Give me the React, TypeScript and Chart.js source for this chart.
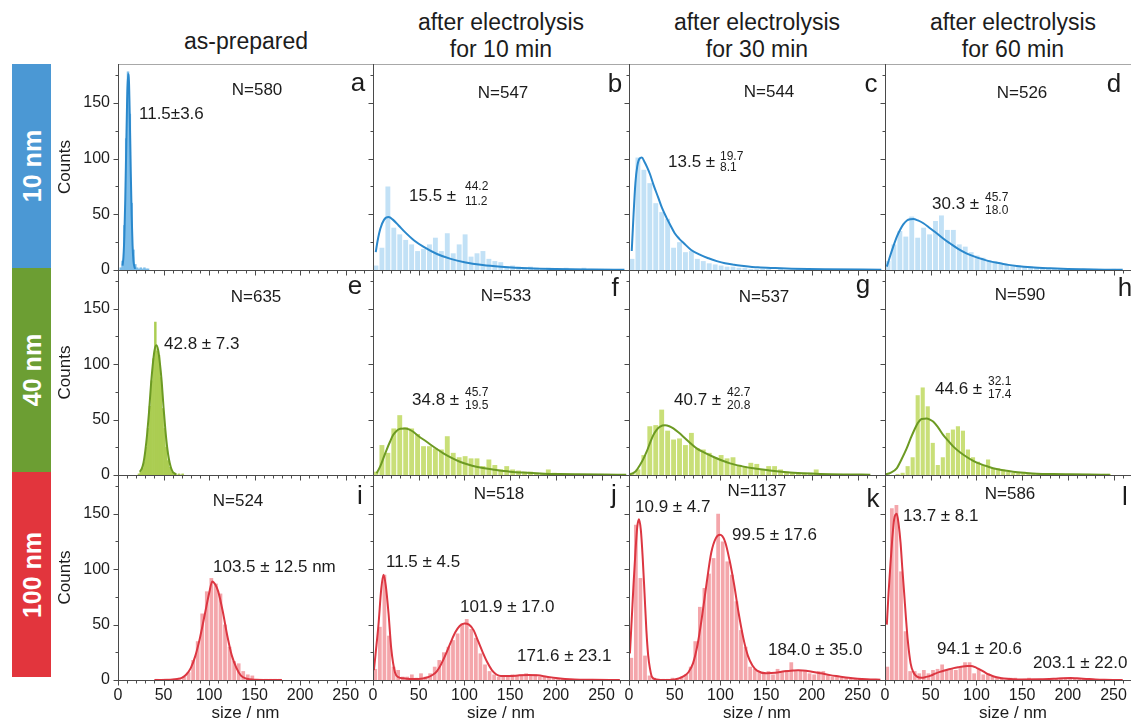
import React, { useEffect, useRef } from 'react';
import { Chart, registerables } from 'chart.js';

Chart.register(...registerables);

const FONT = '"Liberation Sans", Arial, Helvetica, sans-serif';
const TEXT = '#1c1c1c';
const AXIS = '#4a4a4a';

// ---------- text content ----------
const columnTitles: string[][] = [
  ['as-prepared'],
  ['after electrolysis', 'for 10 min'],
  ['after electrolysis', 'for 30 min'],
  ['after electrolysis', 'for 60 min'],
];
const rowLabels = ['10 nm', '40 nm', '100 nm'];
const panelLetters = ['a', 'b', 'c', 'd', 'e', 'f', 'g', 'h', 'i', 'j', 'k', 'l'];
const sampleSizes = ['N=580', 'N=547', 'N=544', 'N=526', 'N=635', 'N=533', 'N=537', 'N=590', 'N=524', 'N=518', 'N=1137', 'N=586'];
const xTitle = 'size / nm';
const yTitle = 'Counts';

// ---------- axes ----------
const xMin = 0;
const xMax = 280;
const xTickStep = 10;
const xLabelStep = 50;
const yMin = 0;
const yMax = 185;
const yTickStep = 25;
const yLabelStep = 50;

// ---------- panel a (10 nm, as-prepared) ----------
const aBinStart = 3;
const aBinWidth = 2;
const aCounts = [2, 8, 40, 118, 178, 140, 60, 18, 5, 2, 1, 2, 1, 2, 1, 1];
const aFitX = [5, 6, 7, 8, 9, 10, 11, 12, 13, 14, 15, 16, 17, 18, 19];
const aFitY = [4, 12, 31, 64, 108, 152, 176, 170, 135, 89, 49, 22, 8, 3, 1];

// ---------- panel b (10 nm, 10 min) ----------
const bBinStart = 3.25;
const bBinWidth = 6.5;
const bCounts = [4, 20, 75, 38, 32, 27, 23, 17, 19, 23, 29, 17, 33, 15, 23, 32, 12, 15, 17, 10, 8, 7, 3, 4, 3, 2, 3, 2, 1, 2, 1, 1, 2, 1, 1, 2, 1, 1, 1, 1];
const bFitX = [3, 5, 8, 12, 17, 22, 28, 35, 45, 55, 70, 85, 100, 120, 140, 170, 200, 240, 275];
const bFitY = [16, 26, 37, 45, 47.5, 45, 40, 34, 26.5, 21, 14.4, 10, 7, 4.5, 3, 1.5, 0.8, 0.4, 0.2];

// ---------- panel c (10 nm, 30 min) ----------
const cBinStart = 3.25;
const cBinWidth = 6.5;
const cCounts = [10, 101, 90, 78, 60, 52, 46, 20, 25, 16, 17, 10, 8, 6, 5, 4, 3, 3, 2, 2, 1, 1, 1, 1, 0, 1, 0, 0, 1, 0, 1];
const cFitX = [3, 5, 7, 9, 11.5, 14, 17, 20, 23, 27, 32, 36, 41, 46, 50, 55, 60, 68, 78, 87, 96, 105, 115, 123, 141, 160, 178, 214, 276];
const cFitY = [17, 50, 78, 93, 100, 101, 97, 92, 86, 76, 65, 56, 47, 39, 33, 28, 24, 18, 13.5, 10.5, 8, 6, 4.7, 3.9, 2.4, 1.7, 1.2, 0.6, 0.3];

// ---------- panel d (10 nm, 60 min) ----------
const dBinStart = 3.25;
const dBinWidth = 6.5;
const dCounts = [8, 23, 35, 30, 48, 29, 38, 32, 44, 49, 36, 36, 23, 21, 16, 13, 11, 9, 8, 6, 5, 4, 4, 3, 3, 2, 2, 2, 1, 1, 1, 1, 1, 1, 1, 1, 1, 0, 1];
const dFitX = [2, 5, 9, 13, 16.4, 20, 24, 28, 31, 36, 42, 50, 56.5, 64, 71, 80, 89, 98, 107, 116, 126, 135, 144, 160, 181, 200, 217, 239, 260];
const dFitY = [3, 11, 21, 30, 36, 41, 44.5, 45.6, 45.8, 44.5, 42, 37, 33, 28, 24, 19, 15, 12, 9.6, 7.5, 6, 4.6, 3.6, 2.4, 1.5, 0.9, 0.6, 0.3, 0.15];

// ---------- panel e (40 nm, as-prepared) ----------
const eBinStart = 23;
const eBinWidth = 2;
const eCounts = [1, 3, 6, 12, 25, 42, 62, 85, 105, 138, 112, 108, 88, 60, 42, 25, 13, 7, 3, 2, 1, 0, 1, 0, 1];
const eFitX = [24, 26, 28, 30, 32, 34, 36, 38, 40, 42, 44, 46, 48, 50, 52, 54, 56, 58, 60, 62, 64];
const eFitY = [3, 5.5, 11, 22, 37, 56, 79, 98, 112, 117, 113, 101, 84, 61, 41, 25, 14, 7, 3, 1.5, 0.5];

// ---------- panel f (40 nm, 10 min) ----------
const fBinStart = 3.25;
const fBinWidth = 6.5;
const fCounts = [3, 27, 20, 42, 54, 43, 42, 37, 26, 26, 24, 23, 35, 20, 16, 17, 15, 15, 8, 14, 9, 5, 8, 5, 4, 3, 3, 2, 2, 5, 2, 1, 1, 1, 1, 1, 1, 0, 1, 1];
const fFitX = [4, 8, 11.3, 15, 18.6, 22, 26, 30, 35, 40, 44, 50, 58.7, 67, 77, 86, 95, 104, 113, 122, 132, 150, 168, 186, 205, 223, 250, 277];
const fFitY = [1.5, 8, 15, 23, 30, 36, 40, 41.7, 42, 41, 39, 35, 30, 25, 19.6, 15.5, 12, 9.5, 7.5, 6, 4.8, 3, 2, 1.2, 0.8, 0.6, 0.4, 0.3];

// ---------- panel g (40 nm, 30 min) ----------
const gBinStart = 3.25;
const gBinWidth = 6.5;
const gCounts = [2, 5, 18, 44, 45, 59, 40, 32, 33, 27, 38, 24, 23, 20, 16, 18, 15, 16, 9, 8, 11, 10, 5, 8, 8, 5, 3, 2, 2, 2, 2, 5, 1, 1, 1, 1, 1];
const gFitX = [1, 5, 8, 12, 16, 19.3, 23, 26.6, 30, 34, 39.4, 44, 48.5, 54, 59.4, 66, 74, 83, 92, 101, 110.5, 123, 136, 154, 172.5, 190, 209, 235, 264];
const gFitY = [0.6, 2, 4, 9, 15, 21, 29, 36, 40.5, 43.6, 44.8, 44, 42, 38.5, 34.6, 29.5, 24, 20, 16.5, 13.3, 10.5, 8, 6, 4, 2.4, 1.5, 0.9, 0.5, 0.3];

// ---------- panel h (40 nm, 60 min) ----------
const hBinStart = 2.75;
const hBinWidth = 5.5;
const hCounts = [0, 0, 1, 2, 8, 16, 72, 79, 62, 29, 9, 16, 38, 41, 44, 40, 23, 16, 12, 9, 14, 6, 6, 5, 3, 2, 2, 2, 1, 1, 1, 0, 1, 1, 0, 1, 1, 0, 1, 0, 1, 0, 0, 1, 1];
const hFitX = [0, 6, 12.8, 18, 23.7, 28, 32.8, 36, 40, 45.6, 49, 52.9, 58, 63.8, 69, 74.8, 82, 89, 96, 104, 113, 122, 131, 140, 153, 166, 184, 202, 224, 246];
const hFitY = [0.5, 2, 6, 14, 24, 33, 42, 47, 50.6, 51, 50, 48, 43, 36, 31, 25.6, 20.5, 16.5, 13, 10, 7.5, 5.4, 4, 3, 2, 1.2, 0.8, 0.6, 0.4, 0.3];

// ---------- panel i (100 nm, as-prepared) ----------
const iBinStart = 2.5;
const iBinWidth = 5;
const iCounts = [0, 0, 0, 0, 0, 0, 0, 0, 1, 0, 1, 0, 1, 1, 3, 7, 18, 35, 60, 80, 92, 87, 78, 50, 30, 17, 15, 8, 5, 4, 1, 0, 1, 1, 1, 1];
const iFitX = [40, 60, 65, 70, 75, 80, 85, 90, 95, 100, 103.5, 107, 110, 115, 120, 125, 130, 135, 140, 150, 180];
const iFitY = [0, 0.5, 1, 2, 5, 11, 22, 38, 58, 78, 89, 86, 80, 62, 40, 22, 11, 4, 1.5, 0.3, 0];

// ---------- panel j (100 nm, 10 min) ----------
const jBinStart = 2.5;
const jBinWidth = 5;
const jCounts = [10, 48, 95, 40, 12, 9, 3, 3, 5, 2, 6, 3, 6, 12, 18, 25, 30, 36, 42, 51, 55, 46, 38, 24, 14, 8, 5, 3, 3, 4, 5, 4, 5, 6, 4, 5, 3, 3, 2, 2, 1, 1, 1, 1];
const jFitX = [1, 3, 6, 9, 11.5, 14, 17, 20, 24, 28, 33, 40, 50, 60, 65, 70, 75, 80, 85, 90, 95, 100, 105, 110, 115, 120, 125, 130, 135, 140, 150, 160, 170, 180, 190, 200, 210, 220, 240, 270];
const jFitY = [9, 25, 50, 82, 95, 85, 60, 28, 7, 2.5, 1.5, 1, 1, 2.5, 4.5, 8, 15, 24, 34, 43, 49, 51, 50, 45, 35, 25, 16, 9, 5, 3.5, 3.5, 4.2, 4.6, 4.2, 3, 1.8, 1, 0.5, 0.2, 0];

// ---------- panel k (100 nm, 30 min) ----------
const kBinStart = 2.5;
const kBinWidth = 5;
const kCounts = [20, 140, 92, 22, 4, 2, 1, 1, 1, 2, 1, 3, 5, 12, 35, 66, 83, 96, 110, 150, 125, 107, 95, 71, 45, 30, 12, 10, 8, 6, 8, 5, 10, 8, 9, 16, 8, 9, 8, 6, 5, 8, 8, 4, 3, 3, 2, 2, 1, 1, 1];
const kFitX = [1, 3, 5, 7, 9, 10.9, 13, 15, 17, 19, 21, 23, 25, 30, 40, 50, 60, 65, 70, 75, 80, 85, 90, 95, 99.5, 105, 110, 115, 120, 125, 130, 135, 140, 150, 160, 170, 180, 185, 190, 200, 210, 220, 230, 240, 250, 260, 275];
const kFitY = [24, 55, 87, 115, 138, 145, 135, 110, 78, 45, 22, 10, 3, 0.5, 0, 0.5, 3.5, 7, 15, 32, 58, 88, 115, 128, 131, 125, 108, 86, 60, 38, 22, 13, 8.5, 6.2, 6.5, 7.8, 8.5, 8.7, 8.6, 7.5, 6, 4.4, 3.2, 2, 1.2, 0.7, 0.3];

// ---------- panel l (100 nm, 60 min) ----------
const lBinStart = 2.5;
const lBinWidth = 5;
const lCounts = [12, 155, 158, 98, 44, 8, 8, 6, 9, 6, 9, 10, 14, 9, 10, 9, 12, 16, 16, 6, 10, 5, 6, 3, 2, 2, 0, 2, 2, 0, 1, 2, 1, 0, 0, 0, 1, 1, 2, 2, 2, 1, 1, 1, 1, 1];
const lFitX = [2, 4, 6, 8, 10, 12.8, 15, 17, 19, 21, 23, 25, 28, 31, 35, 40, 45, 50, 55, 60, 65, 70, 75, 80, 85, 90, 94, 100, 105, 110, 115, 120, 125, 130, 140, 150, 170, 185, 195, 203, 210, 220, 230, 240, 260];
const lFitY = [50, 80, 105, 128, 145, 150, 140, 124, 100, 78, 55, 35, 15, 7, 3, 2, 2.8, 4, 5.8, 7.3, 8.6, 9.7, 10.7, 11.5, 12.2, 12.6, 12.7, 11, 9, 6.5, 4.5, 3, 2, 1.3, 0.7, 0.5, 0.6, 1.1, 1.6, 1.8, 1.5, 1, 0.5, 0.2, 0];

// ---------- layout & style ----------
const colLeft = [118, 373, 629, 885];
const plotWidth = 256;
const rowTop = [64, 270, 475];
const rowBottom = [270, 475, 680];

const rowStyles = [
  { band: '#4b98d4', bar: '#c2e1f6', dense: '#7dbde9', line: '#2a88cc' },
  { band: '#6c9e33', bar: '#c9df78', dense: '#abcd52', line: '#6c9a23' },
  { band: '#e2353d', bar: '#f4a6ab', dense: '#f4a6ab', line: '#dc3641' },
];

interface ValueNote {
  text: string;
  dx: number;
  dy: number;
  sup?: string;
  sub?: string;
  supDx?: number;
  supDy?: number;
  subDy?: number;
}

interface PanelDef {
  row: number;
  col: number;
  binStart: number;
  binWidth: number;
  counts: number[];
  fitX: number[];
  fitY: number[];
  dense: boolean;
  nPos: [number, number];
  letterPos: [number, number];
  notes: ValueNote[];
}

const panels: PanelDef[] = [
  { row: 0, col: 0, binStart: aBinStart, binWidth: aBinWidth, counts: aCounts, fitX: aFitX, fitY: aFitY, dense: true,
    nPos: [139, 26], letterPos: [240, 20], notes: [{ text: '11.5±3.6', dx: 21, dy: 50 }] },
  { row: 0, col: 1, binStart: bBinStart, binWidth: bBinWidth, counts: bCounts, fitX: bFitX, fitY: bFitY, dense: false,
    nPos: [130, 29], letterPos: [242, 21], notes: [{ text: '15.5 ±', dx: 36, dy: 132, sup: '44.2', sub: '11.2', supDx: 92, supDy: 123, subDy: 138 }] },
  { row: 0, col: 2, binStart: cBinStart, binWidth: cBinWidth, counts: cCounts, fitX: cFitX, fitY: cFitY, dense: false,
    nPos: [140, 28], letterPos: [242, 21], notes: [{ text: '13.5 ±', dx: 39, dy: 98, sup: '19.7', sub: '8.1', supDx: 91, supDy: 93, subDy: 104 }] },
  { row: 0, col: 3, binStart: dBinStart, binWidth: dBinWidth, counts: dCounts, fitX: dFitX, fitY: dFitY, dense: false,
    nPos: [137, 29], letterPos: [229, 21], notes: [{ text: '30.3 ±', dx: 47, dy: 140, sup: '45.7', sub: '18.0', supDx: 100, supDy: 134, subDy: 147 }] },
  { row: 1, col: 0, binStart: eBinStart, binWidth: eBinWidth, counts: eCounts, fitX: eFitX, fitY: eFitY, dense: true,
    nPos: [138, 27], letterPos: [237, 17], notes: [{ text: '42.8 ± 7.3', dx: 46, dy: 74 }] },
  { row: 1, col: 1, binStart: fBinStart, binWidth: fBinWidth, counts: fCounts, fitX: fFitX, fitY: fFitY, dense: false,
    nPos: [133, 26], letterPos: [242, 19], notes: [{ text: '34.8 ±', dx: 39, dy: 130, sup: '45.7', sub: '19.5', supDx: 92, supDy: 123, subDy: 136 }] },
  { row: 1, col: 2, binStart: gBinStart, binWidth: gBinWidth, counts: gCounts, fitX: gFitX, fitY: gFitY, dense: false,
    nPos: [135, 27], letterPos: [234, 16], notes: [{ text: '40.7 ±', dx: 45, dy: 130, sup: '42.7', sub: '20.8', supDx: 98, supDy: 123, subDy: 136 }] },
  { row: 1, col: 3, binStart: hBinStart, binWidth: hBinWidth, counts: hCounts, fitX: hFitX, fitY: hFitY, dense: false,
    nPos: [135, 25], letterPos: [240, 19], notes: [{ text: '44.6 ±', dx: 50, dy: 119, sup: '32.1', sub: '17.4', supDx: 103, supDy: 112, subDy: 125 }] },
  { row: 2, col: 0, binStart: iBinStart, binWidth: iBinWidth, counts: iCounts, fitX: iFitX, fitY: iFitY, dense: false,
    nPos: [120, 26], letterPos: [242, 22], notes: [{ text: '103.5 ± 12.5 nm', dx: 95, dy: 92 }] },
  { row: 2, col: 1, binStart: jBinStart, binWidth: jBinWidth, counts: jCounts, fitX: jFitX, fitY: jFitY, dense: false,
    nPos: [126, 19], letterPos: [241, 21], notes: [
      { text: '11.5 ± 4.5', dx: 13, dy: 87 },
      { text: '101.9 ± 17.0', dx: 87, dy: 132 },
      { text: '171.6 ± 23.1', dx: 144, dy: 181 },
    ] },
  { row: 2, col: 2, binStart: kBinStart, binWidth: kBinWidth, counts: kCounts, fitX: kFitX, fitY: kFitY, dense: false,
    nPos: [128, 16], letterPos: [244, 25], notes: [
      { text: '10.9 ± 4.7', dx: 6, dy: 32 },
      { text: '99.5 ± 17.6', dx: 103, dy: 60 },
      { text: '184.0 ± 35.0', dx: 139, dy: 175 },
    ] },
  { row: 2, col: 3, binStart: lBinStart, binWidth: lBinWidth, counts: lCounts, fitX: lFitX, fitY: lFitY, dense: false,
    nPos: [125, 19], letterPos: [240, 23], notes: [
      { text: '13.7 ± 8.1', dx: 18, dy: 41 },
      { text: '94.1 ± 20.6', dx: 52, dy: 174 },
      { text: '203.1 ± 22.0', dx: 148, dy: 188 },
    ] },
];

function makeDecor(p: PanelDef, index: number) {
  return {
    id: 'panelDecor' + index,
    afterDraw(chart: any) {
      const { ctx, chartArea: ca } = chart;
      const xs = chart.scales.x;
      const ys = chart.scales.y;
      const left = Math.round(ca.left) + 0.5;
      const bottom = Math.round(ca.bottom) + 0.5;
      const top = Math.round(ca.top) + 0.5;
      ctx.save();
      ctx.lineWidth = 1;
      if (p.row === 0) {
        ctx.strokeStyle = '#a8a8a8';
        ctx.beginPath();
        ctx.moveTo(ca.left, top);
        ctx.lineTo(ca.right, top);
        ctx.stroke();
      }
      ctx.strokeStyle = AXIS;
      ctx.beginPath();
      ctx.moveTo(left, ca.top);
      ctx.lineTo(left, bottom);
      ctx.moveTo(ca.left, bottom);
      ctx.lineTo(ca.right, bottom);
      ys.ticks.forEach((t: any) => {
        const py = Math.round(ys.getPixelForValue(t.value)) + 0.5;
        const len = t.value % yLabelStep === 0 ? 5 : 3;
        ctx.moveTo(left - len, py);
        ctx.lineTo(left, py);
      });
      xs.ticks.forEach((t: any) => {
        const px = Math.round(xs.getPixelForValue(t.value)) + 0.5;
        const len = t.value % xLabelStep === 0 ? 5 : 3;
        ctx.moveTo(px, bottom);
        ctx.lineTo(px, bottom + len);
      });
      ctx.stroke();

      ctx.fillStyle = TEXT;
      ctx.textBaseline = 'middle';
      // sample size
      ctx.font = `17px ${FONT}`;
      ctx.textAlign = 'center';
      ctx.fillText(sampleSizes[index], ca.left + p.nPos[0], ca.top + p.nPos[1]);
      // panel letter
      ctx.font = `26px ${FONT}`;
      ctx.fillText(panelLetters[index], ca.left + p.letterPos[0], ca.top + p.letterPos[1]);
      // fit values
      ctx.textAlign = 'left';
      p.notes.forEach((n) => {
        ctx.font = `17px ${FONT}`;
        ctx.fillText(n.text, ca.left + n.dx, ca.top + n.dy);
        if (n.sup !== undefined) {
          ctx.font = `12px ${FONT}`;
          ctx.fillText(n.sup, ca.left + (n.supDx as number), ca.top + (n.supDy as number));
          ctx.fillText(n.sub as string, ca.left + (n.supDx as number), ca.top + (n.subDy as number));
        }
      });
      ctx.restore();
    },
  };
}

function PanelChart({ p, index }: { p: PanelDef; index: number }) {
  const ref = useRef<HTMLCanvasElement>(null);
  const L = colLeft[p.col];
  const R = p.col < 3 ? colLeft[p.col + 1] : colLeft[3] + plotWidth;
  const T = rowTop[p.row];
  const B = rowBottom[p.row];
  const showY = p.col === 0;
  const showX = p.row === 2;
  const mL = showY ? 63 : 12;
  const mR = 8;
  const mT = 20;
  const mB = showX ? 46 : 20;
  const w = mL + (R - L) + mR;
  const h = mT + (B - T) + mB;

  useEffect(() => {
    const style = rowStyles[p.row];
    const chart = new Chart(ref.current as HTMLCanvasElement, {
      type: 'bar',
      data: {
        datasets: [
          {
            type: 'line',
            data: p.fitX.map((x, i) => ({ x, y: p.fitY[i] })),
            borderColor: style.line,
            borderWidth: 2,
            pointRadius: 0,
            cubicInterpolationMode: 'monotone',
            fill: false,
            order: 0,
          } as any,
          {
            type: 'bar',
            data: p.counts.map((c, i) => ({ x: p.binStart + i * p.binWidth, y: c })),
            backgroundColor: p.dense ? style.dense : style.bar,
            borderWidth: 0,
            barPercentage: 1,
            categoryPercentage: p.dense ? 1 : 0.82,
            order: 1,
          } as any,
        ],
      },
      options: {
        animation: false,
        responsive: false,
        maintainAspectRatio: false,
        devicePixelRatio: 1,
        events: [],
        layout: { padding: { top: mT, right: mR, left: 0, bottom: 0 } },
        plugins: { legend: { display: false }, tooltip: { enabled: false }, title: { display: false } },
        scales: {
          x: {
            type: 'linear',
            min: xMin,
            max: xMax,
            offset: false,
            grid: { display: false, drawTicks: false },
            border: { display: false },
            ticks: {
              stepSize: xTickStep,
              autoSkip: false,
              maxRotation: 0,
              minRotation: 0,
              includeBounds: false,
              padding: 6,
              color: TEXT,
              font: { family: FONT, size: 16 },
              callback: (v: any) => (showX && Number(v) % xLabelStep === 0 ? String(v) : ''),
            },
            title: {
              display: showX,
              text: xTitle,
              color: TEXT,
              font: { family: FONT, size: 17 },
              padding: { top: 0, bottom: 2 },
            },
            afterFit: (s: any) => {
              s.height = mB;
            },
          },
          y: {
            type: 'linear',
            min: yMin,
            max: yMax,
            grid: { display: false, drawTicks: false },
            border: { display: false },
            ticks: {
              stepSize: yTickStep,
              autoSkip: false,
              includeBounds: false,
              padding: 8,
              color: TEXT,
              font: { family: FONT, size: 16 },
              callback: (v: any) => (showY && Number(v) % yLabelStep === 0 ? String(v) : ''),
            },
            title: {
              display: showY,
              text: yTitle,
              color: TEXT,
              font: { family: FONT, size: 17 },
              padding: { top: 0, bottom: 0 },
            },
            afterFit: (s: any) => {
              s.width = mL;
            },
          },
        },
      } as any,
      plugins: [makeDecor(p, index)],
    });
    return () => chart.destroy();
  }, []);

  return (
    <canvas
      ref={ref}
      width={w}
      height={h}
      style={{ position: 'absolute', left: L - mL, top: T - mT, width: w, height: h }}
    />
  );
}

const bandTop = [64, 268, 472];
const bandHeight = [204, 204, 205];

export default function App() {
  return (
    <div
      style={{
        position: 'absolute',
        left: 0,
        top: 0,
        width: 1131,
        height: 722,
        overflow: 'hidden',
        background: '#ffffff',
        fontFamily: FONT,
        color: TEXT,
      }}
    >
      {columnTitles.map((lines, c) => (
        <div
          key={'t' + c}
          style={{
            position: 'absolute',
            left: colLeft[c],
            width: plotWidth,
            top: lines.length === 1 ? 28 : 9,
            textAlign: 'center',
            fontSize: 23,
            lineHeight: '27px',
            whiteSpace: 'nowrap',
          }}
        >
          {lines.map((t, i) => (
            <div key={i}>{t}</div>
          ))}
        </div>
      ))}
      {rowLabels.map((label, r) => (
        <div
          key={'r' + r}
          style={{
            position: 'absolute',
            left: 12,
            width: 39,
            top: bandTop[r],
            height: bandHeight[r],
            background: rowStyles[r].band,
          }}
        >
          <div
            style={{
              position: 'absolute',
              left: '50%',
              top: '50%',
              transform: 'translate(-50%, -50%) rotate(-90deg)',
              color: '#ffffff',
              fontWeight: 'bold',
              fontSize: 25,
              whiteSpace: 'nowrap',
              lineHeight: '28px',
            }}
          >
            {label}
          </div>
        </div>
      ))}
      {panels.map((p, i) => (
        <PanelChart key={'p' + i} p={p} index={i} />
      ))}
    </div>
  );
}
